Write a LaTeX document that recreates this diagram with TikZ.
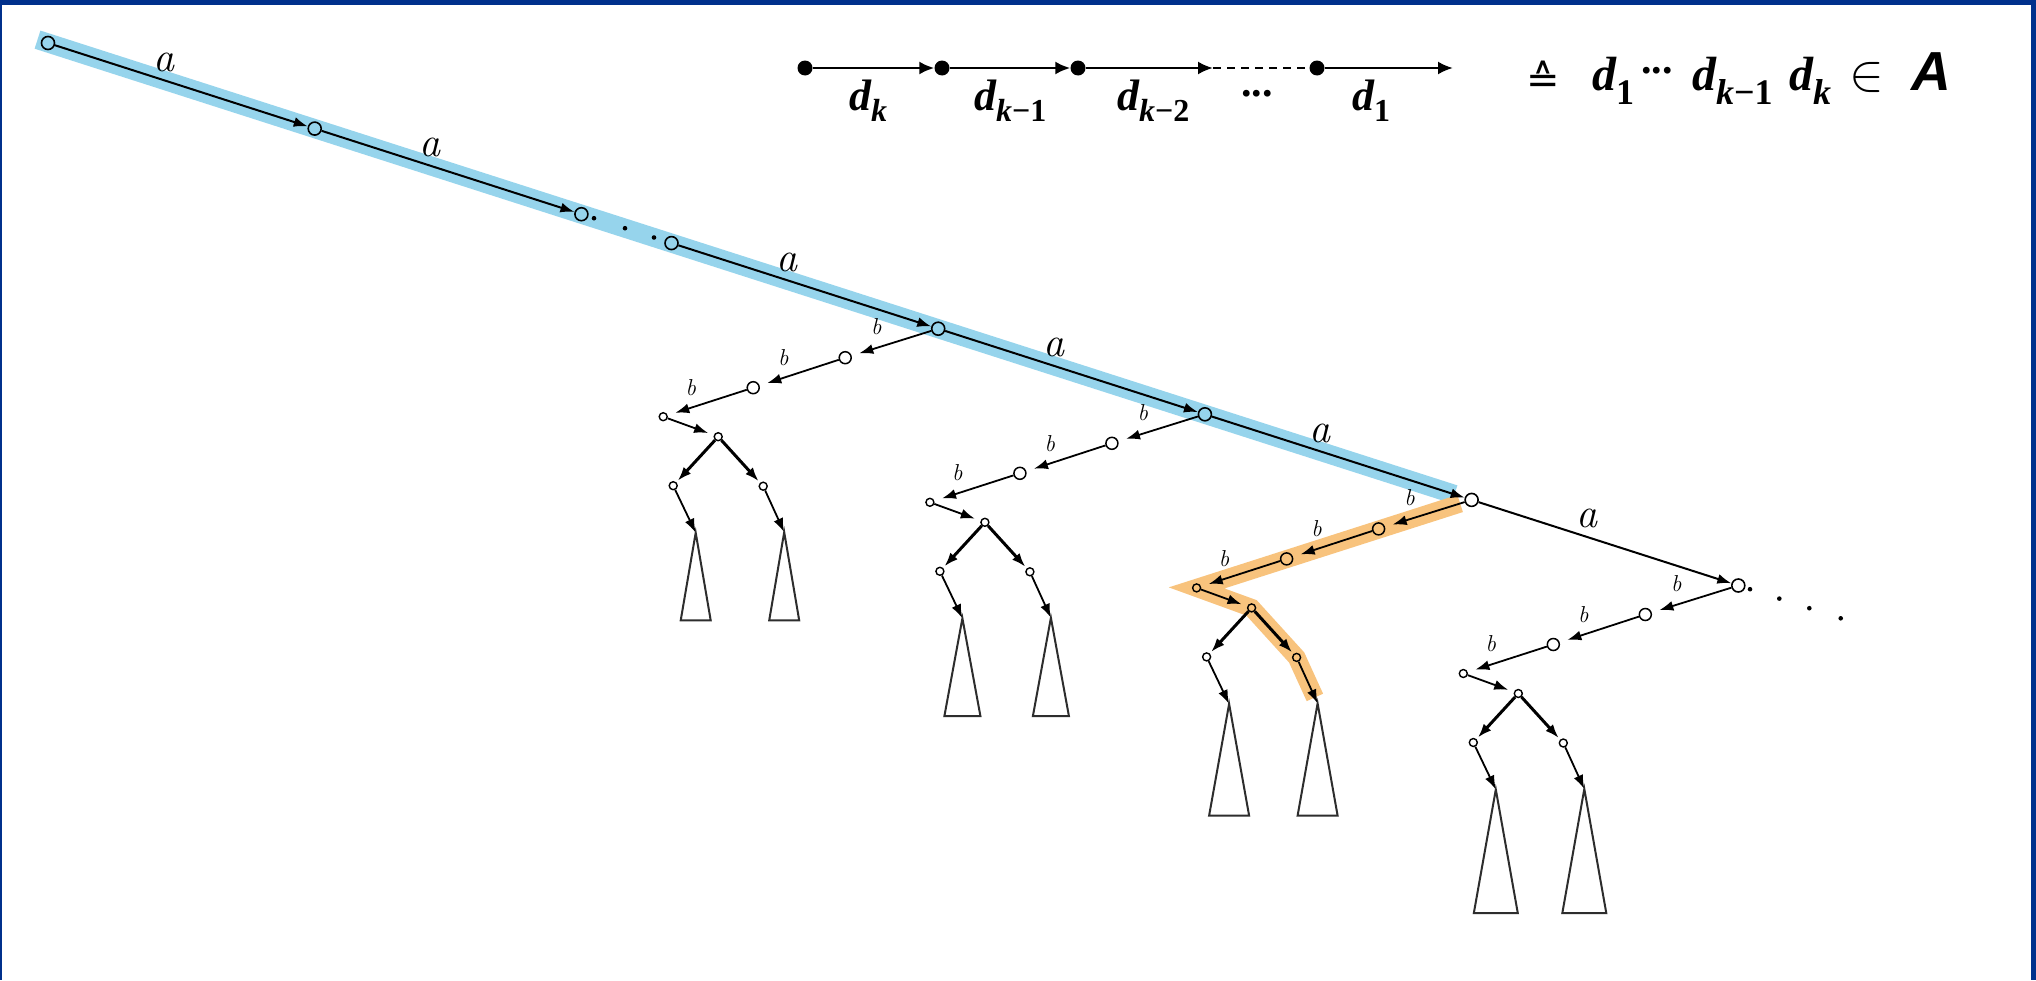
\RequirePackage{fix-cm}
\documentclass[tikz,border=0pt]{standalone}
\usepackage{fontspec}
\newfontfamily\tnrbi{Liberation Serif Bold Italic}
\newfontfamily\tnrb{Liberation Serif Bold}
\newfontfamily\arsbi{Liberation Sans Bold Italic}
\newfontfamily\djs{DejaVu Sans}
\usetikzlibrary{arrows.meta,calc,backgrounds}
\definecolor{frameblue}{RGB}{0,48,140}
\definecolor{hlblue}{RGB}{150,212,236}
\definecolor{hlorange}{RGB}{248,195,125}
\definecolor{trigray}{RGB}{45,45,45}
% #1 size of d, #2 size of subscript, #3 subscript, #4 drop of subscript
\newcommand\dlab[4]{{\fontsize{#1}{#1}\selectfont\tnrbi d}\raisebox{-#4}{\fontsize{#2}{#2}\selectfont\tnrb #3}}
\newcommand\kk{{\tnrbi k}}
\begin{document}
\begin{tikzpicture}[x=1pt,y=-1pt,
  anode/.style={circle,draw,line width=1.6pt,inner sep=0pt,minimum size=13pt},
  bnode/.style={circle,draw,line width=1.5pt,inner sep=0pt,minimum size=12pt},
  snode/.style={circle,draw,line width=1.4pt,inner sep=0pt,minimum size=8pt},
  aedge/.style={line width=2pt,-{Latex[length=14pt,width=10pt]}},
  bedge/.style={line width=1.8pt,-{Latex[length=14pt,width=10pt]},shorten >=8pt},
  cedge/.style={line width=3pt,-{Latex[length=14pt,width=10pt]},shorten >=2pt},
  tedge/.style={line width=1.8pt,-{Latex[length=14pt,width=10pt]}},
  tri/.style={line width=2pt,draw=trigray},
  alab/.style={font=\fontsize{42}{42}\selectfont\itshape,inner sep=0pt},
  blab/.style={font=\fontsize{23}{23}\selectfont\itshape,inner sep=0pt},
  ldot/.style={circle,fill,inner sep=0pt,minimum size=15pt},
  legarrow/.style={line width=2.5pt,-{Latex[length=15pt,width=13pt]}},
  legdash/.style={line width=2.5pt,dash pattern=on 8pt off 6pt},
  txt/.style={inner sep=0pt,anchor=base west}]
\useasboundingbox (0,0) rectangle (2036,980);
\begin{scope}[on background layer]
  \fill[white] (0,0) rectangle (2036,980);
\end{scope}
\fill[frameblue] (0,0) rectangle (2036,5);
\fill[frameblue] (0,0) rectangle (2,980);
\fill[frameblue] (2031,0) rectangle (2036,980);

% main chain
\node[anode] (A0) at (48,43) {};
\node[anode] (A1) at (314.7,128.6) {};
\node[anode] (A2) at (581.4,214.2) {};
\node[anode] (A3) at (671.5,243.1) {};
\node[anode] (A4) at (938.2,328.7) {};
\node[anode] (A5) at (1204.9,414.3) {};
\node[anode] (A6) at (1471.6,499.9) {};
\node[anode] (A7) at (1738.3,585.5) {};
\draw[aedge] (A0) -- (A1);
\draw[aedge] (A1) -- (A2);
\draw[aedge] (A3) -- (A4);
\draw[aedge] (A4) -- (A5);
\draw[aedge] (A5) -- (A6);
\draw[aedge] (A6) -- (A7);
\node[alab] (la0) at ($(A0)+(115.5,19)$) {a};
\node[alab] (la1) at ($(A1)+(115.5,19)$) {a};
\node[alab] (la3) at ($(A3)+(115.5,19)$) {a};
\node[alab] (la4) at ($(A4)+(115.5,19)$) {a};
\node[alab] (la5) at ($(A5)+(115.5,19)$) {a};
\node[alab] (la6) at ($(A6)+(115.5,19)$) {a};
\foreach \p in {(594,218.2),(625,228.2),(654,237.5),(1750,589.2),(1779.3,598.6),(1809.3,608.2),(1840.7,618.3)}
  \fill \p circle (2.3);

% subtrees
\foreach \k/\h/\w in {4/291.7/15,5/301.7/18,6/315.7/20,7/327.7/22}{
  \begin{scope}[shift={(A\k.center)}]
    \node[bnode] (B1-\k) at (-93,29) {};
    \node[bnode] (B2-\k) at (-185,59) {};
    \node[snode] (B3-\k) at (-275,88) {};
    \node[snode] (C-\k) at (-220,108) {};
    \node[snode] (L-\k) at (-265,157) {};
    \node[snode] (R-\k) at (-175,157.5) {};
    \coordinate (TL-\k) at (-242.5,204);
    \coordinate (TR-\k) at (-154,203.5);
    \node[blab] (lb1-\k) at (-62,-2) {b};
    \node[blab] (lb2-\k) at (-155,29) {b};
    \node[blab] (lb3-\k) at (-247.5,58.5) {b};
  \end{scope}
  \draw[bedge] (A\k) -- (B1-\k);
  \draw[bedge] (B1-\k) -- (B2-\k);
  \draw[bedge] (B2-\k) -- (B3-\k);
  \draw[bedge,shorten >=6pt] (B3-\k) -- (C-\k);
  \draw[cedge] (C-\k) -- (L-\k);
  \draw[cedge] (C-\k) -- (R-\k);
  \draw[tedge] (L-\k) -- (TL-\k);
  \draw[tedge] (R-\k) -- (TR-\k);
  \draw[tri] (TL-\k) -- ++({-\w},{\h-204}) -- ++({2*\w},0) -- cycle;
  \draw[tri] (TR-\k) -- ++({-\w},{\h-203.5}) -- ++({2*\w},0) -- cycle;
}

% highlights
\begin{scope}[on background layer]
  \draw[hlblue,line width=19pt] ($(A0)!-11pt!(A1)$) -- ($(A6)!18pt!(A5)$);
  \draw[hlorange,line width=18pt,line join=miter]
     ($(A6)!12pt!(B1-6)$) -- (B3-6.center) -- (C-6.center) -- (R-6.center) -- ($(R-6)!0.87!(TR-6)$);
\end{scope}

% legend
\node[ldot] (D1) at (805,68) {};
\node[ldot] (D2) at (942,68) {};
\node[ldot] (D3) at (1078,68) {};
\coordinate (E3) at (1213,68);
\node[ldot] (D4) at (1317,68) {};
\coordinate (E4) at (1453,68);
\draw[legarrow] (D1) -- (D2);
\draw[legarrow] (D2) -- (D3);
\draw[legarrow] (D3) -- (E3);
\draw[legdash] (E3) -- (D4);
\draw[legarrow] (D4) -- (E4);
\node[txt] (ldk) at (849,110) {\dlab{44}{32}{\kk}{11pt}};
\node[txt] (ldk1) at (974,110) {\dlab{44}{32}{\kk−1}{11pt}};
\node[txt] (ldk2) at (1117,110) {\dlab{44}{32}{\kk−2}{11pt}};
\node[txt] (ldots) at (1241,110) {\fontsize{42}{42}\selectfont\tnrb\raisebox{14pt}{...}};
\node[txt] (ld1) at (1352,110) {\dlab{44}{32}{1}{11pt}};

\node[txt] (eqdef) at (1526,93) {\fontsize{40}{40}\selectfont\djs ≙};
\node[txt] (rd1) at (1592,90) {\dlab{48}{36}{1}{14pt}};
\node[txt] (rdots) at (1641,90) {\fontsize{42}{42}\selectfont\tnrb\raisebox{17pt}{...}};
\node[txt] (rdk1) at (1692,90) {\dlab{48}{36}{\kk−1}{14pt}};
\node[txt] (rdk) at (1789,90) {\dlab{48}{36}{\kk}{14pt}};
\node[txt] (rin) at (1849,90) {\fontsize{52}{52}\selectfont$\in$};
\node[txt] (rA) at (1911,90) {\fontsize{55}{55}\selectfont\arsbi A};
\end{tikzpicture}
\end{document}
